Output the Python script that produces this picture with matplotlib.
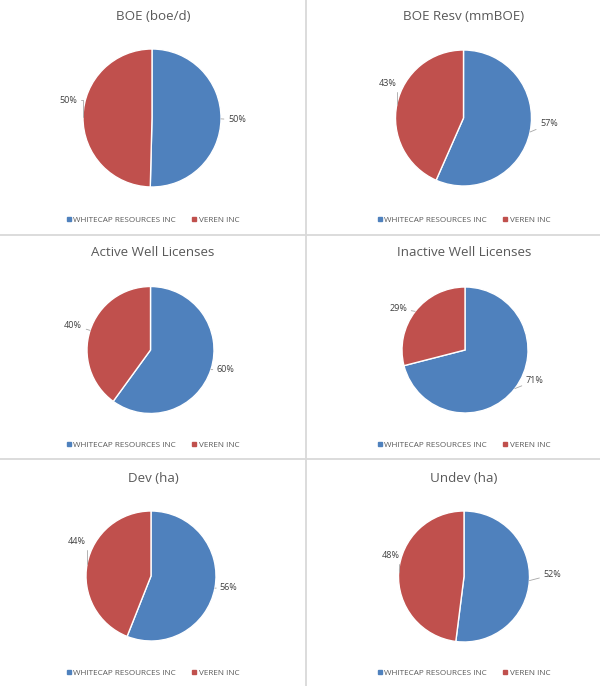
"""Six pie charts: Whitecap vs Veren share by metric."""
import numpy as np
import matplotlib
matplotlib.use("Agg")
import matplotlib.pyplot as plt
from matplotlib.lines import Line2D

plt.rcParams["font.family"] = ["Open Sans", "DejaVu Sans"]

W, H = 600, 686

companies = ["WHITECAP RESOURCES INC", "VEREN INC"]
titles = ["BOE (boe/d)", "BOE Resv (mmBOE)", "Active Well Licenses",
          "Inactive Well Licenses", "Dev (ha)", "Undev (ha)"]
whitecap = [50.4, 56.6, 60, 71, 56, 52]
veren = [49.6, 43.4, 40, 29, 44, 48]

COLORS = ["#4F81BD", "#C0504D"]

# ---- layout in pixels (y from top) ----
centers = [(152, 118), (463.5, 118), (150.5, 350), (465, 350), (151, 576), (464, 576.5)]
radii = [69, 68, 63.5, 63, 65, 65.5]
title_y = [16, 16, 253, 253, 478, 478]
legend_y = [220, 220, 445, 445, 673, 673]
col_x = [153, 464]
# label centre offset from wedge edge (dx, dy px), [whitecap, veren]
label_off = [
    [(16, 1), (-15, -17)],
    [(19, -8), (-9, -21)],
    [(15, 0), (-17, -5)],
    [(20, -8), (-17, -3)],
    [(13, -1), (-10, -22)],
    [(23, -6), (-8, -17)],
]

fig = plt.figure(figsize=(W / 100, H / 100), dpi=100)
fig.patch.set_facecolor("white")

# panel dividers
line_c = "#D9D9D9"
fig.add_artist(Line2D([306 / W, 306 / W], [0, 1], transform=fig.transFigure, color=line_c, lw=1.3))
for yy in (235, 459):
    fig.add_artist(Line2D([0, 1], [1 - yy / H, 1 - yy / H], transform=fig.transFigure, color=line_c, lw=1.3))

for i in range(6):
    cx, cy = centers[i]
    r = radii[i]
    ax = fig.add_axes([(cx - r) / W, 1 - (cy + r) / H, 2 * r / W, 2 * r / H])
    wedges, _ = ax.pie([whitecap[i], veren[i]], colors=COLORS, startangle=90,
                       counterclock=False, radius=1,
                       wedgeprops=dict(edgecolor="white", linewidth=1.0))
    ax.set_xlim(-1, 1)
    ax.set_ylim(-1, 1)
    ax.set_aspect("equal")
    total = whitecap[i] + veren[i]
    for k, (w, v) in enumerate(zip(wedges, [whitecap[i], veren[i]])):
        mid = np.deg2rad((w.theta1 + w.theta2) / 2)
        ex, ey = np.cos(mid), np.sin(mid)
        dx, dy = label_off[i][k]
        # elbow leader when the label sits well above the edge (Excel style)
        conn = "angle,angleA=0,angleB=90,rad=0" if dy <= -10 else "arc3"
        ax.annotate(f"{100 * v / total:.0f}%", xy=(ex, ey), xytext=(dx, -dy),
                    textcoords="offset pixels", ha="center", va="center",
                    fontsize=6.5, color="#404040", annotation_clip=False,
                    arrowprops=dict(arrowstyle="-", color="#A6A6A6", lw=0.6,
                                    shrinkA=1, shrinkB=0, connectionstyle=conn))

    col = i % 2
    fig.text(col_x[col] / W, 1 - title_y[i] / H, titles[i], ha="center", va="center",
             fontsize=9.6, color="#595959")

    handles = [Line2D([], [], marker="s", linestyle="none", markersize=2.3,
                      markerfacecolor=c, markeredgecolor=c) for c in COLORS]
    fig.legend(handles, companies, loc="center", ncol=2, frameon=False,
               bbox_to_anchor=(col_x[col] / W, 1 - legend_y[i] / H),
               fontsize=5.9, labelcolor="#595959", handlelength=0.5,
               handletextpad=0.3, columnspacing=2.0)

fig.savefig("out.png", dpi=100)
